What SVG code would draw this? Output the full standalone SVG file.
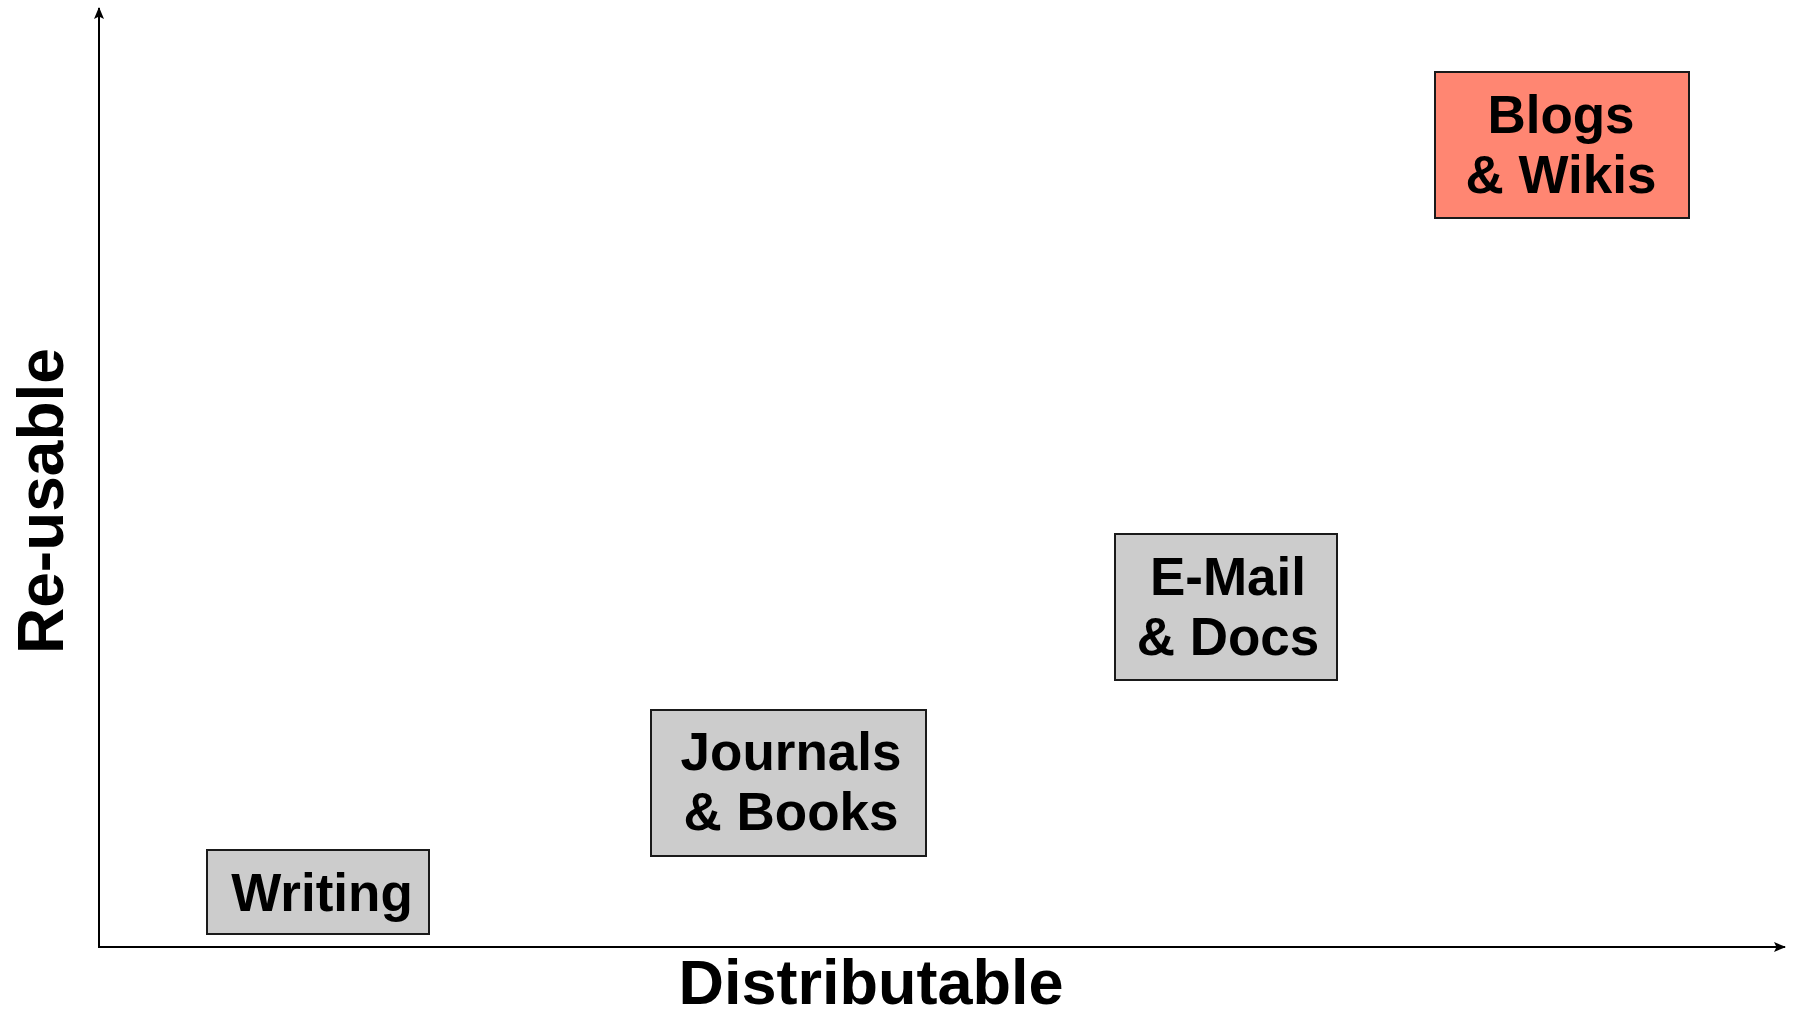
<svg xmlns="http://www.w3.org/2000/svg" width="1806" height="1018" viewBox="0 0 1806 1018">
  <defs>
    <style>
      .box { stroke: #1a1a1a; stroke-width: 2; }
      .gray { fill: #cccccc; }
      .red { fill: #ff8672; }
      .lbl { font-family: "Liberation Sans", Arial, sans-serif; font-weight: bold; font-size: 53px; fill: #000; text-anchor: middle; }
      .axis-lbl { font-family: "Liberation Sans", Arial, sans-serif; font-weight: bold; font-size: 64px; fill: #000; text-anchor: middle; }
      .axis { stroke: #000; stroke-width: 2; fill: none; }
    </style>
    <marker id="arrow" viewBox="0 0 12 10" refX="11" refY="5" markerWidth="12" markerHeight="10" markerUnits="userSpaceOnUse" orient="auto">
      <path d="M0,0 L12,5 L0,10 L2.5,5 Z" fill="#000"/>
    </marker>
  </defs>
  <rect width="1806" height="1018" fill="#ffffff"/>

  <g id="connectors">
    <line class="axis" x1="99" y1="948" x2="99" y2="8" marker-end="url(#arrow)"/>
    <line class="axis" x1="98" y1="947" x2="1785" y2="947" marker-end="url(#arrow)"/>
  </g>

  <g id="axis-y-label">
    <text class="axis-lbl" transform="translate(63,501) rotate(-90)" x="0" y="0">Re-usable</text>
  </g>
  <g id="axis-x-label">
    <text class="axis-lbl" x="871" y="1004" style="font-size:63px">Distributable</text>
  </g>

  <g id="writing">
    <rect class="box gray" x="207" y="850" width="222" height="84"/>
    <text class="lbl" x="322" y="911">Writing</text>
  </g>

  <g id="journals">
    <rect class="box gray" x="651" y="710" width="275" height="146"/>
    <text class="lbl" x="791" y="770">Journals</text>
    <text class="lbl" x="791" y="830">&amp; Books</text>
  </g>

  <g id="email">
    <rect class="box gray" x="1115" y="534" width="222" height="146"/>
    <text class="lbl" x="1228" y="595">E-Mail</text>
    <text class="lbl" x="1228" y="655">&amp; Docs</text>
  </g>

  <g id="blogs">
    <rect class="box red" x="1435" y="72" width="254" height="146"/>
    <text class="lbl" x="1561" y="133">Blogs</text>
    <text class="lbl" x="1561" y="193">&amp; Wikis</text>
  </g>
</svg>
